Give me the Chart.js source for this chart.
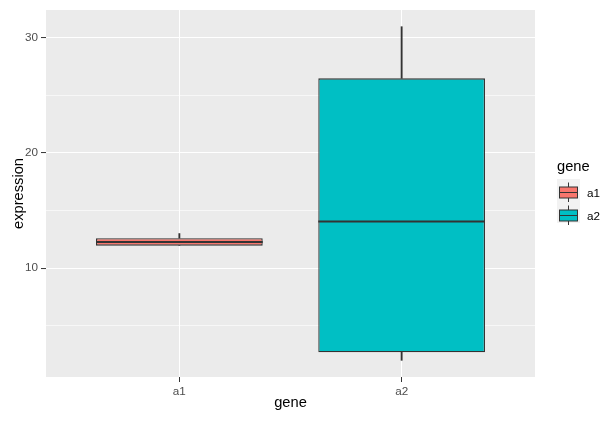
<!DOCTYPE html>
<html>
<head>
<meta charset="utf-8">
<script src="https://cdn.jsdelivr.net/npm/chart.js@4/dist/chart.umd.min.js"></script>
<style>
  html, body { margin: 0; padding: 0; background: #ffffff; }
  canvas { display: block; }
</style>
</head>
<body>
<canvas id="boxChart" width="616" height="422"></canvas>
<script>
// ------------------- Data -------------------
const genes = ["a1", "a2"];
const minVals = [11.95, 2.0];
const q1Vals = [11.95, 2.7];
const medianVals = [12.27, 14.05];
const q3Vals = [12.6, 26.47];
const maxVals = [13.0, 30.95];
const yTicks = [5, 10, 15, 20, 25, 30];
const yLabelled = [10, 20, 30];
const geneColors = ["#F8766D", "#00BFC4"];

const FONT = "'Liberation Sans', Arial, sans-serif";
const DARK = "#333333";

// ggplot style 5% expansion of the data range
const lo = Math.min(...minVals);
const hi = Math.max(...maxVals);
const pad = (hi - lo) * 0.05;

function floatBars(fromArr, toArr) {
  return genes.map((g, i) => ({ x: i + 1, y: [fromArr[i], toArr[i]] }));
}

// ------------------- Plugins -------------------
const panelBackground = {
  id: "panelBackground",
  beforeDraw(chart) {
    const { ctx, chartArea: a } = chart;
    ctx.save();
    ctx.fillStyle = "#EBEBEB";
    ctx.fillRect(a.left, a.top, a.right - a.left, a.bottom - a.top);
    ctx.restore();
  }
};

// median line across each box, using the box bar geometry and the y scale
const medianLines = {
  id: "medianLines",
  afterDatasetsDraw(chart) {
    const ctx = chart.ctx;
    const yScale = chart.scales.y;
    const boxes = chart.getDatasetMeta(0).data;
    ctx.save();
    ctx.strokeStyle = DARK;
    ctx.lineWidth = 2;
    boxes.forEach((bar, i) => {
      const y = yScale.getPixelForValue(medianVals[i]);
      ctx.beginPath();
      ctx.moveTo(bar.x - bar.width / 2, y);
      ctx.lineTo(bar.x + bar.width / 2, y);
      ctx.stroke();
    });
    ctx.restore();
  }
};

const ggLegend = {
  id: "ggLegend",
  afterDraw(chart) {
    const ctx = chart.ctx;
    ctx.save();
    ctx.font = "14.7px " + FONT;
    ctx.fillStyle = "#000000";
    ctx.textBaseline = "middle";
    ctx.textAlign = "left";
    ctx.fillText("gene", 557, 167);

    ctx.fillStyle = "#F2F2F2";
    ctx.fillRect(557, 179, 23, 44);

    genes.forEach((g, i) => {
      const cy = 192.5 + 23 * i;
      ctx.strokeStyle = DARK;
      ctx.lineWidth = 1;
      ctx.beginPath();
      ctx.moveTo(568.5, cy - 10);
      ctx.lineTo(568.5, cy + 9.5);
      ctx.stroke();
      ctx.fillStyle = geneColors[i];
      ctx.fillRect(559.5, cy - 5.5, 18, 11);
      ctx.strokeRect(559.5, cy - 5.5, 18, 11);
      ctx.beginPath();
      ctx.moveTo(559.5, cy);
      ctx.lineTo(577.5, cy);
      ctx.stroke();
      ctx.fillStyle = "#000000";
      ctx.font = "11.7px " + FONT;
      ctx.fillText(g, 587, cy + 1);
    });
    ctx.restore();
  }
};

// ------------------- Chart -------------------
new Chart(document.getElementById("boxChart"), {
  type: "bar",
  data: {
    datasets: [
      {
        label: "box",
        data: floatBars(q1Vals, q3Vals),
        backgroundColor: geneColors,
        borderColor: DARK,
        borderWidth: 1.3,
        borderSkipped: false
      },
      {
        label: "upper whisker",
        data: floatBars(q3Vals, maxVals),
        backgroundColor: DARK,
        borderWidth: 0,
        barThickness: 1.2
      },
      {
        label: "lower whisker",
        data: floatBars(minVals, q1Vals),
        backgroundColor: DARK,
        borderWidth: 0,
        barThickness: 1.2
      }
    ]
  },
  options: {
    responsive: false,
    animation: false,
    grouped: false,
    categoryPercentage: 1,
    barPercentage: 0.75,
    layout: { padding: { top: 7, right: 81, left: 0, bottom: 0 } },
    plugins: {
      legend: { display: false },
      tooltip: { enabled: false }
    },
    scales: {
      x: {
        type: "linear",
        min: 0.4,
        max: 2.6,
        offset: false,
        afterBuildTicks: (scale) => { scale.ticks = genes.map((g, i) => ({ value: i + 1 })); },
        afterFit: (scale) => { scale.height = 45; },
        ticks: {
          callback: (v) => genes[v - 1] || "",
          color: "#4D4D4D",
          font: { family: FONT, size: 11.7 },
          padding: 3,
          maxRotation: 0
        },
        grid: { offset: false, color: "#ffffff", lineWidth: 1, tickColor: DARK, tickLength: 5, tickWidth: 1 },
        border: { display: false },
        title: {
          display: true,
          text: "gene",
          color: "#000000",
          font: { family: FONT, size: 14.7, lineHeight: 2 }
        }
      },
      y: {
        type: "linear",
        min: lo - pad,
        max: hi + pad,
        afterBuildTicks: (scale) => { scale.ticks = yTicks.map((v) => ({ value: v })); },
        afterFit: (scale) => { scale.width = 46; },
        ticks: {
          callback: (v) => (yLabelled.includes(v) ? String(v) : ""),
          color: "#4D4D4D",
          font: { family: FONT, size: 11.7 },
          padding: 3
        },
        grid: {
          color: "#ffffff",
          lineWidth: (c) => (c.tick && yLabelled.includes(c.tick.value) ? 1.1 : 0.6),
          tickColor: (c) => (c.tick && yLabelled.includes(c.tick.value) ? DARK : "rgba(0,0,0,0)"),
          tickLength: 5,
          tickWidth: 1
        },
        border: { display: false },
        title: {
          display: true,
          text: "expression",
          color: "#000000",
          font: { family: FONT, size: 14.7, lineHeight: 2 }
        }
      }
    }
  },
  plugins: [panelBackground, medianLines, ggLegend]
});
</script>
</body>
</html>
